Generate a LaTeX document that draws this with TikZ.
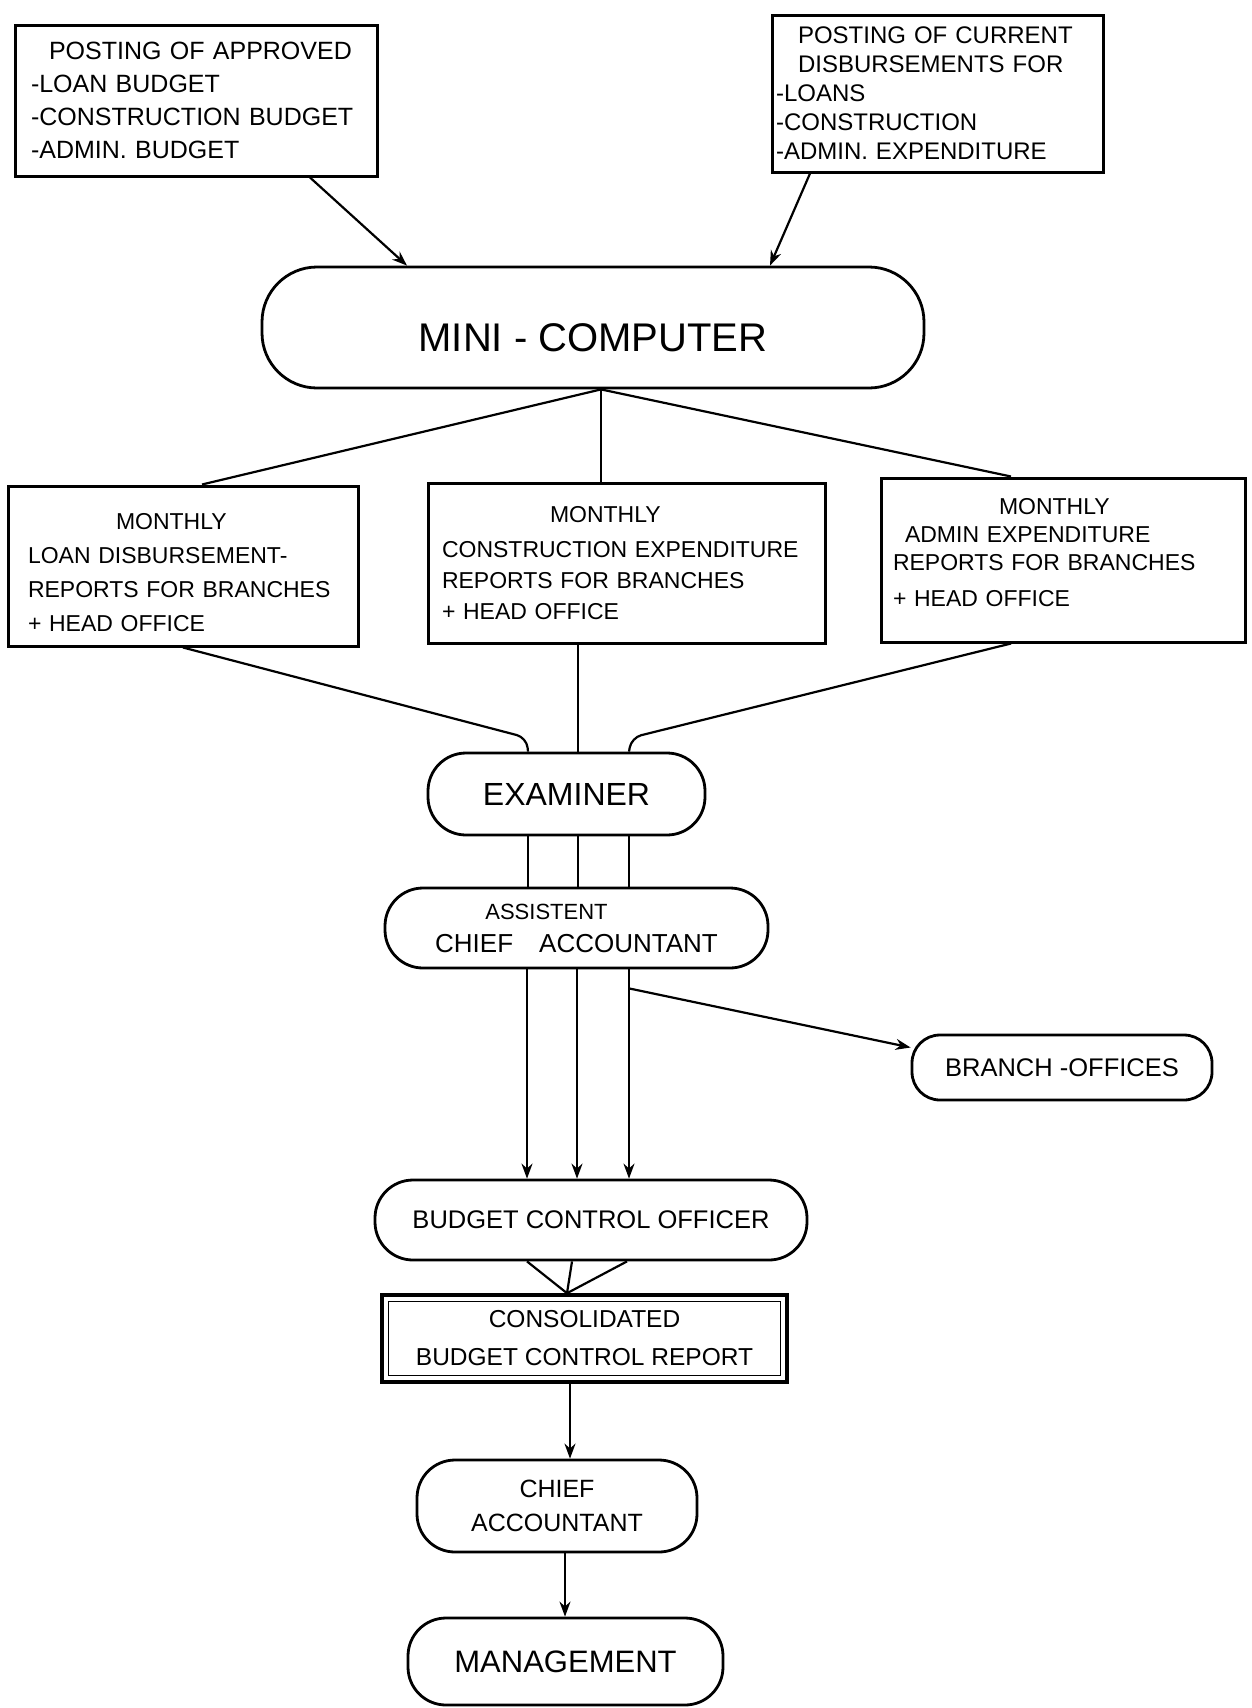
\documentclass[tikz,border=0pt]{standalone}
\usepackage{fontspec}
\setmainfont{Liberation Sans}
\usetikzlibrary{arrows.meta}
\newcommand{\fsz}[2]{\fontsize{#1}{#2}\selectfont}
\begin{document}
\begin{tikzpicture}[x=1pt,y=-1pt,
  frame/.style={draw, line width=3pt, rectangle},
  pill/.style={draw, line width=2.8pt, rounded corners=#1, align=center, inner sep=0pt},
  link/.style={line width=2.2pt},
  arr/.style={link, -{Stealth[length=15pt,width=11pt]}},
]
\useasboundingbox[fill=white] (0,0) rectangle (1252,1708);

% input postings
\node[frame, minimum width=362pt, minimum height=151pt, inner xsep=16pt,
      text width=330pt, align=left, font=\fsz{25}{33}] (A) at (196,100.5)
  {\hspace*{18pt}POSTING OF APPROVED\\-LOAN BUDGET\\-CONSTRUCTION BUDGET\\-ADMIN. BUDGET};
\node[frame, minimum width=331pt, minimum height=157pt, inner xsep=4pt,
      text width=323pt, align=left, font=\fsz{24}{29}] (B) at (937.5,93.5)
  {\hspace*{22pt}POSTING OF CURRENT\\\hspace*{22pt}DISBURSEMENTS FOR\\-LOANS\\-CONSTRUCTION\\-ADMIN. EXPENDITURE};

% processing
\node[pill=55pt, minimum width=662pt, minimum height=121pt, font=\fsz{40}{46}] (mini) at (593,327.5)
  {\rule{0pt}{49pt}MINI - COMPUTER};

% monthly reports
\node[frame, minimum width=350pt, minimum height=160pt, inner xsep=20pt,
      text width=310pt, align=left, font=\fsz{23}{34}] (rl) at (183,566)
  {\hspace*{88pt}\rule{0pt}{29pt}MONTHLY\\LOAN DISBURSEMENT-\\REPORTS FOR BRANCHES\\+ HEAD OFFICE};
\node[frame, minimum width=397pt, minimum height=160pt, inner xsep=14pt,
      text width=369pt, align=left, font=\fsz{23}{31}] (rc) at (626.5,563)
  {\hspace*{108pt}MONTHLY\\[4pt]CONSTRUCTION EXPENDITURE\\REPORTS FOR BRANCHES\\+ HEAD OFFICE};
\node[frame, minimum width=364pt, minimum height=164pt, inner xsep=12pt,
      text width=340pt, align=left, font=\fsz{23}{28}] (rr) at (1063,560)
  {\hspace*{106pt}MONTHLY\\\hspace*{12pt}ADMIN EXPENDITURE\\REPORTS FOR BRANCHES\\[8pt]+ HEAD OFFICE\rule[-16pt]{0pt}{16pt}};

% review chain
\node[pill=38pt, minimum width=277pt, minimum height=82pt, font=\fsz{32}{38}] (ex) at (566.5,794)
  {EXAMINER};
\node[pill=38pt, minimum width=383pt, minimum height=80pt, font=\fsz{26}{32}] (asst) at (576.5,928)
  {\hspace*{-60pt}{\fsz{22}{26}ASSISTENT}\\[1pt]CHIEF\quad ACCOUNTANT};
\node[pill=28pt, minimum width=300pt, minimum height=65pt, font=\fsz{25.5}{30}] (br) at (1062,1067.5)
  {BRANCH -OFFICES};
\node[pill=38pt, minimum width=432pt, minimum height=80pt, font=\fsz{25.5}{30}] (bco) at (591,1220)
  {BUDGET CONTROL OFFICER};
\node[frame, line width=3.6pt, minimum width=405pt, minimum height=87pt, align=center,
      font=\fsz{24.5}{38}] (cons) at (584.5,1338.5)
  {CONSOLIDATED\\BUDGET CONTROL REPORT};
\draw[line width=1.2pt] ([xshift=8pt,yshift=-8pt]cons.north west) rectangle ([xshift=-8pt,yshift=8pt]cons.south east);
\node[pill=38pt, minimum width=280pt, minimum height=92pt, font=\fsz{25}{34}] (chief) at (557,1506)
  {CHIEF\\ACCOUNTANT};
\node[pill=38pt, minimum width=315pt, minimum height=87pt, font=\fsz{31}{36}] (mgmt) at (565.5,1661.5)
  {MANAGEMENT};

% inputs to the mini-computer
\draw[arr] ([xshift=114pt]A.south) -- ([xshift=-186pt]mini.north);
\draw[arr] ([xshift=-127.5pt]B.south) -- ([xshift=177pt]mini.north);

% mini-computer to the reports
\draw[link] ([xshift=8pt]mini.south) -- ([xshift=19pt]rl.north);
\draw[link] ([xshift=8pt]mini.south) -- ([xshift=-25.5pt]rc.north);
\draw[link] ([xshift=8pt]mini.south) -- ([xshift=-52pt]rr.north);

% reports to the examiner
\draw[link, rounded corners=10pt] (rl.south) -- ([xshift=-40pt,yshift=14pt]ex.north) -- ([xshift=-38.5pt]ex.north);
\draw[link] ([xshift=-48.5pt]rc.south) -- ([xshift=11.5pt]ex.north);
\draw[link, rounded corners=10pt] ([xshift=-52pt]rr.south) -- ([xshift=65pt,yshift=14pt]ex.north) -- ([xshift=62.5pt]ex.north);

% examiner to assistant chief accountant
\draw[link] ([xshift=-38.5pt]ex.south) -- ([xshift=-48.5pt]asst.north);
\draw[link] ([xshift=11.5pt]ex.south) -- ([xshift=1.5pt]asst.north);
\draw[link] ([xshift=62.5pt]ex.south) -- ([xshift=52.5pt]asst.north);

% assistant to budget control officer and branches
\draw[arr] ([xshift=-49.5pt]asst.south) -- ([xshift=-64pt]bco.north);
\draw[arr] ([xshift=0.5pt]asst.south) -- ([xshift=-14pt]bco.north);
\draw[arr] ([xshift=52.5pt]asst.south) -- ([xshift=38pt]bco.north);
\draw[arr] ([xshift=52.5pt,yshift=-19pt]asst.south) -- ([yshift=20pt]br.west);

% consolidation and reporting upwards
\draw[link] ([xshift=-64pt]bco.south) -- ([xshift=-17.5pt]cons.north);
\draw[link] ([xshift=-19pt]bco.south) -- ([xshift=-17.5pt]cons.north);
\draw[link] ([xshift=36pt]bco.south) -- ([xshift=-17.5pt]cons.north);
\draw[arr] ([xshift=-14.5pt]cons.south) -- ([xshift=13pt]chief.north);
\draw[arr] ([xshift=8pt]chief.south) -- ([xshift=-0.5pt]mgmt.north);
\end{tikzpicture}
\end{document}
